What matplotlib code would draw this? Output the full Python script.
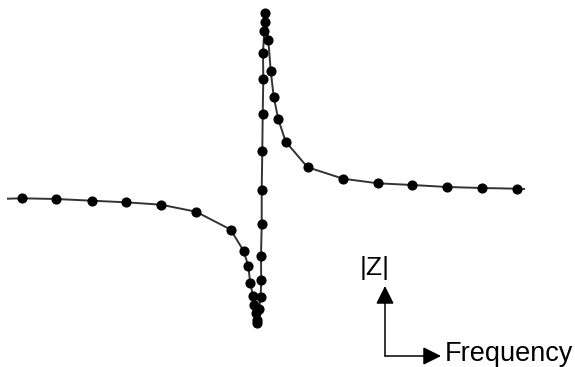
import matplotlib
matplotlib.use("Agg")
import matplotlib.pyplot as plt
import numpy as np

H = 367
# measured sample points (frequency position, |Z| value) in figure-pixel units
freq = [22, 56, 91.7, 126, 161, 196, 230.5, 243.5, 248.2, 250.3, 253, 254.3,
        256, 256.8, 257.3, 259, 260.7, 261.2, 261, 261.7, 261.7, 262.3, 262.7,
        263.3, 263, 264.3, 264.5, 265.2, 268.3, 270.7, 273.7, 278.3, 285.7,
        307.5, 343, 377.7, 412.3, 447.3, 482.3, 516.7]
zpix = [198.3, 199, 200.7, 202.3, 204.7, 211.7, 229.5, 250.7, 265.5, 283.3,
        295.5, 305.3, 313.3, 320, 323, 308.7, 297, 280, 256, 224.3, 189.7,
        151, 114, 79.3, 52.7, 30.7, 22, 13, 40, 70.7, 96.7, 119.3, 141.7,
        167.2, 178.7, 183.3, 185, 187, 188, 188.7]
mag = [H - v for v in zpix]

# line extends slightly beyond first/last sample
start_freq, start_mag = 8, H - 198.7
end_freq, end_mag = 524, H - 189

fig = plt.figure(figsize=(5.75, 3.67), dpi=100)
ax = fig.add_axes([0, 0, 1, 1])
ax.set_xlim(0, 575)
ax.set_ylim(0, H)
ax.axis("off")

line_x = [start_freq] + freq + [end_freq]
line_y = [start_mag] + mag + [end_mag]
ax.plot(line_x, line_y, color="#333333", lw=1.4, zorder=2,
        solid_joinstyle="round")
ax.plot(freq, mag, "o", color="black", ms=6.3, zorder=3)

corner = (385, H - 356)
ap = dict(arrowstyle="-|>,head_length=1.1,head_width=0.55", mutation_scale=10,
          color="black", lw=1.1, shrinkA=0, shrinkB=0)
ax.annotate("", xy=(385, H - 286), xytext=corner, arrowprops=ap)
ax.annotate("", xy=(441, H - 356), xytext=corner, arrowprops=ap)

ax.text(374.5, H - 267.5, "|Z|", fontsize=19, family="Liberation Sans",
        ha="center", va="center")
ax.text(445, H - 361, "Frequency", fontsize=19.5, family="Liberation Sans",
        ha="left", va="baseline")

fig.savefig("out.png", dpi=100)
